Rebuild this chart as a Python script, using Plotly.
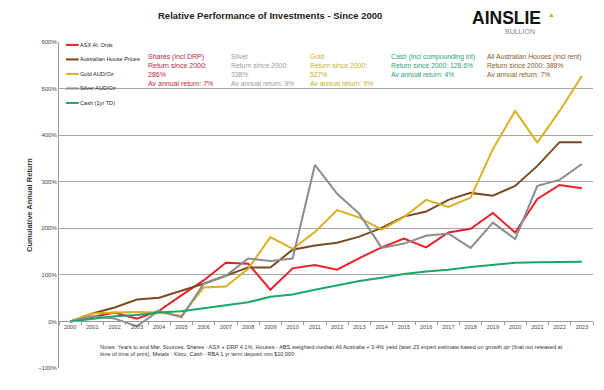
import plotly.graph_objects as go

years = [str(y) for y in range(2000, 2024)]
asx = [0, 10, 19, 6, 23, 56, 88, 126, 124, 68, 114, 121, 111, 136, 159, 178, 159, 191, 199, 233, 191, 263, 293, 286]
houses = [0, 17, 30, 47, 51, 66, 81, 98, 116, 116, 154, 163, 169, 182, 201, 225, 236, 261, 276, 270, 291, 334, 385, 385]
gold = [0, 17, 19, 20, 19, 12, 73, 75, 113, 181, 156, 192, 239, 223, 197, 224, 261, 246, 266, 370, 452, 384, 452, 527]
silver = [0, 11, 6, -10, 23, 9, 81, 98, 135, 130, 135, 336, 274, 231, 158, 167, 184, 189, 158, 212, 177, 291, 304, 338]
cash = [0, 6, 11, 14, 19, 22, 28, 34, 41, 53, 58, 68, 78, 87, 94, 102, 107, 111, 117, 122, 126, 127, 128, 128]

series = [
    ("ASX Al. Ords", asx, "#e8202a"),
    ("Australian House Prices", houses, "#7b4a1e"),
    ("Gold AUD/Oz", gold, "#d9b022"),
    ("Silver AUD/Oz", silver, "#8c8c8c"),
    ("Cash (1yr TD)", cash, "#1aa86a"),
]

fig = go.Figure()
for name, vals, col in series:
    fig.add_trace(go.Scatter(x=years, y=vals, name=name, mode="lines",
                             line=dict(color=col, width=2)))

# compact legend drawn as shapes + labels
leg_x0, leg_x1, leg_y0, leg_dy = 0.013, 0.037, 0.991, 0.0445
for i, (name, vals, col) in enumerate(series):
    yy = leg_y0 - i * leg_dy
    fig.add_shape(type="line", xref="paper", yref="paper", x0=leg_x0, x1=leg_x1, y0=yy, y1=yy,
                  line=dict(color=col, width=2))
    fig.add_annotation(x=leg_x1, y=yy, xref="paper", yref="paper", xanchor="left", yanchor="middle",
                       text=name, showarrow=False, xshift=-1, font=dict(size=5.6, color="#222"))

fig.update_layout(
    width=596, height=382,
    margin=dict(l=51, r=11, t=34, b=22),
    paper_bgcolor="white", plot_bgcolor="white",
    font=dict(family="Liberation Sans, Arial, sans-serif", color="#333"),
    showlegend=False,
    xaxis=dict(type="category", anchor="free", position=1/7, range=[-0.5, 23.5],
               showline=True, linecolor="#999", linewidth=1,
               ticks="outside", ticklen=3, tickcolor="#999", tickson="boundaries",
               tickangle=0,
               tickfont=dict(size=5.5, color="#444"), showgrid=False),
    yaxis=dict(range=[-100, 600], dtick=100, ticksuffix="%",
               showline=True, linecolor="#999", linewidth=1,
               gridcolor="#a6a6a6", gridwidth=1, zeroline=False,
               tickfont=dict(size=6, color="#444"),
               title=dict(text="<b>Cumulative Annual Return</b>", font=dict(size=7.5, color="#333"), standoff=4)),
)

ann = [
    (0.163, "Shares (incl DRP)<br>Return since 2000:<br>286%<br>Av annual return: 7%", "#b5283e", 7),
    (0.318, "Silver<br>Return since 2000:<br>338%<br>Av annual return: 9%", "#9a9a9a", 6.8),
    (0.467, "Gold<br>Return since 2000:<br>527%<br>Av annual return: 9%", "#c9b02a", 6.8),
    (0.618, "Cash (incl compounding int)<br>Return since 2000: 128.6%<br>Av annual return: 4%", "#2a9f7a", 6.8),
    (0.797, "All Australian Houses (incl rent)<br>Return since 2000: 388%<br>Av annual return: 7%", "#8a5a2a", 6.8),
]
for x, t, c, s in ann:
    fig.add_annotation(x=x, y=0.972, xref="paper", yref="paper", xanchor="left", yanchor="top",
                       text=t, showarrow=False, align="left", font=dict(size=s, color=c))

fig.add_annotation(x=0.395, y=1.0, xref="paper", yref="paper", yshift=34, xanchor="center", yanchor="top",
                   text="<b>Relative Performance of Investments - Since 2000</b>", showarrow=False,
                   font=dict(size=9.5, color="#222"))
fig.add_annotation(x=0.770, y=1.0, xref="paper", yref="paper", yshift=34, xanchor="left", yanchor="top",
                   height=16, valign="middle",
                   text="<b>AINSLIE</b>", showarrow=False, font=dict(size=17.5, color="#111", family="Liberation Sans"))
fig.add_annotation(x=0.922, y=1.0, xref="paper", yref="paper", yshift=34, xanchor="center", yanchor="top",
                   height=8, valign="middle",
                   text="▲", showarrow=False, font=dict(size=7, color="#d9a520"))
fig.add_annotation(x=0.831, y=1.0, xref="paper", yref="paper", yshift=16, xanchor="left", yanchor="top",
                   height=6, valign="middle",
                   text="BULLION", showarrow=False, font=dict(size=7, color="#888"))
fig.add_annotation(x=0.073, y=0.08, xref="paper", yref="paper", xanchor="left", yanchor="top",
                   text="Notes: Years to end Mar. Sources: Shares - ASX + DRP 4.1%, Houses - ABS weighted median All Australia + 3-4% yield (later 23 expert estimate based on growth qtr (final not released at<br>time of time of print), Metals - Kitco, Cash - RBA 1 yr term deposit min $10,000",
                   showarrow=False, align="left", font=dict(size=5.6, color="#333"))

fig.write_html("out.html")
